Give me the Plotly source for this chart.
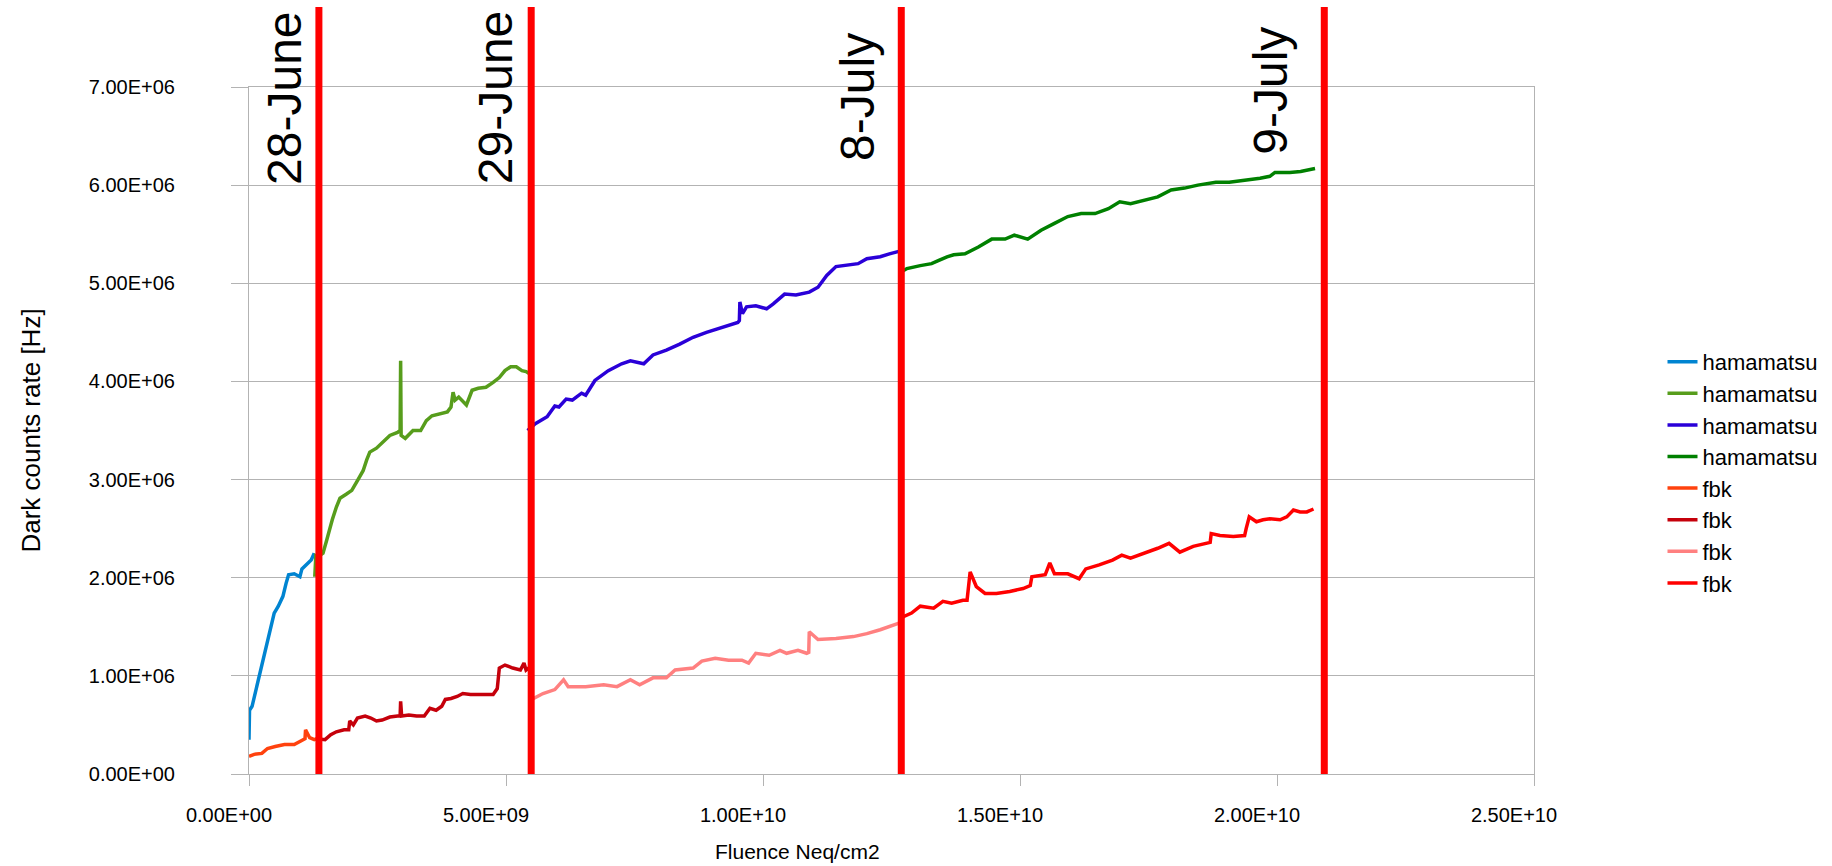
import plotly.graph_objects as go

# ---------------- data (fluence in 1e9 n_eq/cm2, rate in 1e6 Hz) ----------------
ham1_x = [0.00, 0.01, 0.06, 0.12, 0.17, 0.25, 0.32, 0.39, 0.49, 0.57, 0.66, 0.72, 0.77, 0.88, 0.99, 1.03, 1.14, 1.21, 1.27]
ham1_y = [0.35, 0.65, 0.69, 0.82, 0.96, 1.13, 1.26, 1.43, 1.64, 1.71, 1.81, 1.94, 2.03, 2.04, 2.01, 2.09, 2.15, 2.18, 2.25]

ham2_x = [1.28, 1.30, 1.33, 1.44, 1.51, 1.56, 1.62, 1.70, 1.77, 1.89,
          2.00, 2.11, 2.22, 2.29, 2.35, 2.48, 2.59, 2.74, 2.89, 2.94,
          2.95, 2.96, 3.04, 3.19, 3.34, 3.45, 3.56, 3.71, 3.86, 3.93,
          3.97, 4.01, 4.08, 4.23, 4.34, 4.46, 4.61, 4.75, 4.87, 4.98,
          5.09, 5.20, 5.31, 5.39, 5.45]
ham2_y = [2.01, 2.22, 2.21, 2.25, 2.38, 2.48, 2.59, 2.72, 2.81, 2.85,
          2.89, 2.99, 3.09, 3.20, 3.28, 3.32, 3.38, 3.45, 3.48, 3.50,
          4.21, 3.45, 3.42, 3.50, 3.50, 3.60, 3.65, 3.67, 3.69, 3.74,
          3.89, 3.81, 3.84, 3.76, 3.91, 3.93, 3.94, 3.99, 4.04, 4.11,
          4.15, 4.15, 4.11, 4.10, 4.08]

ham3_x = [5.42, 5.57, 5.80, 5.95, 6.03, 6.17, 6.29, 6.47, 6.55, 6.73,
          6.99, 7.25, 7.42, 7.68, 7.86, 8.12, 8.38, 8.64, 8.90, 9.16,
          9.33, 9.51, 9.54, 9.55, 9.60, 9.68, 9.86, 10.07, 10.20, 10.42,
          10.64, 10.90, 11.07, 11.24, 11.42, 11.59, 11.85, 12.02, 12.28, 12.46,
          12.59, 12.68]
ham3_y = [3.50, 3.57, 3.64, 3.75, 3.74, 3.82, 3.81, 3.88, 3.86, 4.01,
          4.11, 4.18, 4.21, 4.18, 4.27, 4.32, 4.38, 4.45, 4.50, 4.54,
          4.57, 4.60, 4.62, 4.81, 4.69, 4.76, 4.77, 4.74, 4.79, 4.89,
          4.88, 4.91, 4.96, 5.08, 5.17, 5.18, 5.20, 5.25, 5.27, 5.30,
          5.32, 5.33]

ham4_x = [12.67, 12.80, 13.06, 13.28, 13.41, 13.58, 13.71, 13.93, 14.19, 14.45,
          14.71, 14.89, 15.15, 15.41, 15.67, 15.93, 16.19, 16.46, 16.72, 16.94,
          17.15, 17.42, 17.68, 17.94, 18.20, 18.46, 18.81, 19.07, 19.42, 19.67,
          19.86, 19.96, 20.25, 20.46, 20.74]
ham4_y = [5.11, 5.15, 5.18, 5.20, 5.23, 5.27, 5.29, 5.30, 5.37, 5.45,
          5.45, 5.49, 5.45, 5.54, 5.61, 5.68, 5.71, 5.71, 5.76, 5.83,
          5.81, 5.85, 5.88, 5.95, 5.97, 6.00, 6.03, 6.03, 6.05, 6.07,
          6.09, 6.13, 6.13, 6.14, 6.17]

fbk1_x = [0.00, 0.10, 0.25, 0.36, 0.51, 0.69, 0.88, 1.03, 1.09, 1.10, 1.18, 1.27, 1.32]
fbk1_y = [0.18, 0.20, 0.21, 0.26, 0.28, 0.30, 0.30, 0.35, 0.36, 0.45, 0.37, 0.35, 0.36]

fbk2_x = [1.32, 1.48, 1.59, 1.70, 1.85, 1.94, 1.96, 2.03, 2.11, 2.26,
          2.37, 2.48, 2.59, 2.74, 2.89, 2.94, 2.95, 2.97, 3.11, 3.26,
          3.41, 3.52, 3.64, 3.75, 3.82, 3.93, 4.05, 4.16, 4.31, 4.53,
          4.75, 4.83, 4.87, 4.98, 5.13, 5.28, 5.35, 5.39, 5.44]
fbk2_y = [0.36, 0.35, 0.40, 0.43, 0.45, 0.45, 0.54, 0.50, 0.57, 0.59,
          0.57, 0.54, 0.55, 0.58, 0.59, 0.59, 0.74, 0.59, 0.60, 0.59,
          0.59, 0.67, 0.65, 0.69, 0.76, 0.77, 0.79, 0.82, 0.81, 0.81,
          0.81, 0.87, 1.08, 1.11, 1.08, 1.06, 1.13, 1.06, 1.08]

fbk3_x = [5.46, 5.50, 5.72, 5.95, 6.12, 6.21, 6.55, 6.90, 7.16, 7.42,
          7.60, 7.86, 8.12, 8.29, 8.64, 8.81, 9.07, 9.33, 9.59, 9.72,
          9.86, 10.12, 10.33, 10.46, 10.68, 10.85, 10.89, 10.90, 11.07, 11.42,
          11.76, 12.02, 12.28, 12.46, 12.66]
fbk3_y = [0.74, 0.76, 0.82, 0.86, 0.96, 0.89, 0.89, 0.91, 0.89, 0.96,
          0.91, 0.98, 0.98, 1.06, 1.08, 1.15, 1.18, 1.16, 1.16, 1.13,
          1.23, 1.21, 1.26, 1.23, 1.26, 1.23, 1.24, 1.45, 1.37, 1.38,
          1.40, 1.43, 1.47, 1.50, 1.54]

fbk4_x = [12.70, 12.72, 12.89, 13.06, 13.32, 13.50, 13.67, 13.89, 13.97, 14.03,
          14.15, 14.32, 14.54, 14.80, 15.06, 15.20, 15.23, 15.49, 15.58, 15.67,
          15.93, 16.15, 16.28, 16.54, 16.80, 16.98, 17.15, 17.42, 17.68, 17.90,
          18.11, 18.37, 18.63, 18.70, 18.72, 18.89, 19.15, 19.37, 19.40, 19.46,
          19.60, 19.73, 19.86, 20.06, 20.19, 20.32, 20.45, 20.58, 20.71]
fbk4_y = [1.55, 1.60, 1.64, 1.71, 1.69, 1.76, 1.74, 1.77, 1.77, 2.06,
          1.91, 1.84, 1.84, 1.86, 1.89, 1.92, 2.01, 2.03, 2.15, 2.04,
          2.04, 1.99, 2.09, 2.13, 2.18, 2.23, 2.20, 2.25, 2.30, 2.35,
          2.26, 2.32, 2.35, 2.36, 2.45, 2.43, 2.42, 2.43, 2.50, 2.62,
          2.57, 2.59, 2.60, 2.59, 2.62, 2.69, 2.67, 2.67, 2.70]

series_names = ["hamamatsu", "hamamatsu", "hamamatsu", "hamamatsu", "fbk", "fbk", "fbk", "fbk"]

date_fluence_e9 = [1.36, 5.49, 12.69, 20.92]
date_labels = ["28-June", "29-June", "8-July", "9-July"]

x_tick_vals = [0, 5e9, 1e10, 1.5e10, 2e10, 2.5e10]
x_tick_text = ["0.00E+00", "5.00E+09", "1.00E+10", "1.50E+10", "2.00E+10", "2.50E+10"]
y_tick_vals = [0, 1e6, 2e6, 3e6, 4e6, 5e6, 6e6, 7e6]
y_tick_text = ["0.00E+00", "1.00E+06", "2.00E+06", "3.00E+06", "4.00E+06", "5.00E+06", "6.00E+06", "7.00E+06"]

x_title = "Fluence Neq/cm2"
y_title = "Dark counts rate [Hz]"

# ---------------- styling ----------------
FONT = "Liberation Sans, Arial, sans-serif"
colors = ["#0084d1", "#579d1c", "#2a00d8", "#008000", "#ff420e", "#c5000b", "#ff8080", "#ff0000"]
label_xshift = [-34, -35, -44, -54]
label_ycenter = [0.984, 0.984, 0.986, 0.995]

W, H = 1832, 866
PL, PR, PT, PB = 249, 1534, 87, 774   # plot-area edges in page pixels

xs = [ham1_x, ham2_x, ham3_x, ham4_x, fbk1_x, fbk2_x, fbk3_x, fbk4_x]
ys = [ham1_y, ham2_y, ham3_y, ham4_y, fbk1_y, fbk2_y, fbk3_y, fbk4_y]

fig = go.Figure()
for xv, yv, name, col in zip(xs, ys, series_names, colors):
    fig.add_trace(go.Scatter(
        x=[v * 1e9 for v in xv], y=[v * 1e6 for v in yv],
        mode="lines", name=name,
        line=dict(color=col, width=3.5),
    ))

line_top_paper = (PB - 7) / (PB - PT)

for f, lab, dx, yc in zip(date_fluence_e9, date_labels, label_xshift, label_ycenter):
    fig.add_shape(type="line", xref="x", yref="paper",
                  x0=f * 1e9, x1=f * 1e9, y0=0, y1=line_top_paper,
                  line=dict(color="#ff0000", width=7), layer="above")
    fig.add_annotation(x=f * 1e9, xref="x", y=yc, yref="paper",
                       text=lab, textangle=-90, showarrow=False,
                       xanchor="center", yanchor="middle", xshift=dx,
                       font=dict(family=FONT, size=48, color="#000000"))

# x-axis title as free text (it sits left of the plot centre in the reference)
fig.add_annotation(x=(797 - PL) / (PR - PL), xref="paper",
                   y=-(851 - PB) / (PB - PT), yref="paper",
                   text=x_title, showarrow=False,
                   xanchor="center", yanchor="middle",
                   font=dict(family=FONT, size=21, color="#000000"))

fig.update_layout(
    width=W, height=H,
    margin=dict(l=PL, r=W - PR, t=PT, b=H - PB, pad=0, autoexpand=False),
    paper_bgcolor="white", plot_bgcolor="white",
    font=dict(family=FONT, color="#000000"),
    showlegend=True,
    legend=dict(x=1.10, xanchor="left", y=0.439, yanchor="middle",
                font=dict(family=FONT, size=22, color="#000000"),
                bgcolor="rgba(0,0,0,0)", borderwidth=0, tracegroupgap=0),
    xaxis=dict(
        range=[0, 2.5e10], tickvals=x_tick_vals, ticktext=x_tick_text,
        showgrid=False, zeroline=False,
        showline=True, linecolor="#b3b3b3", linewidth=1, mirror=True,
        ticks="outside", ticklen=11, tickcolor="#b3b3b3", tickwidth=1,
        tickfont=dict(family=FONT, size=20, color="#000000"),
        ticklabelstandoff=12, ticklabelshift=-20,
    ),
    yaxis=dict(
        range=[0, 7e6], tickvals=y_tick_vals, ticktext=y_tick_text,
        showgrid=True, gridcolor="#b3b3b3", gridwidth=1, zeroline=False,
        showline=True, linecolor="#b3b3b3", linewidth=1, mirror=True,
        ticks="outside", ticklen=17, tickcolor="#b3b3b3", tickwidth=1,
        tickfont=dict(family=FONT, size=20, color="#000000"),
        ticklabelstandoff=52,
        title=dict(text=y_title, standoff=40,
                   font=dict(family=FONT, size=26, color="#000000")),
    ),
)

# remove the browser's default 8px body margin so the figure starts at the page corner
fig.write_html("out.html", config={"displayModeBar": False},
               post_script="document.body.style.margin='0px';")
